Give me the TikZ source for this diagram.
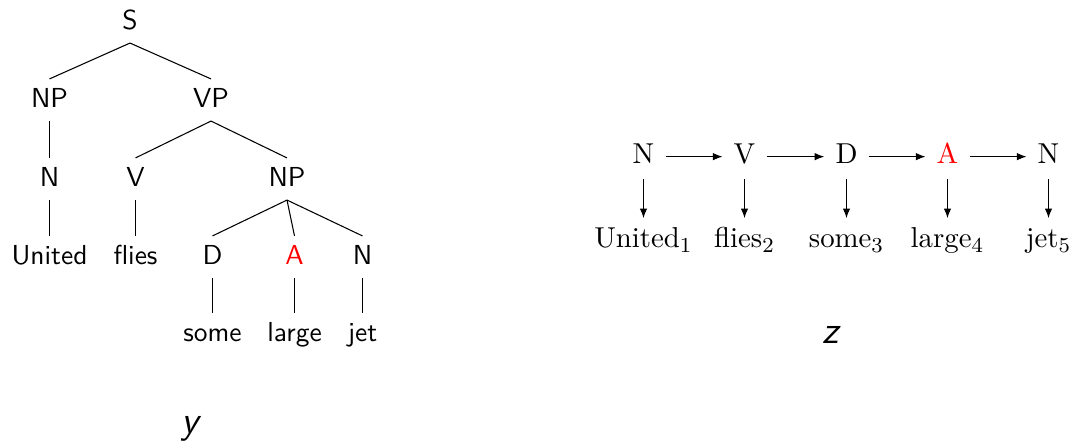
\documentclass[tikz,border=0pt]{standalone}
\usetikzlibrary{arrows.meta}
\begin{document}
\begin{tikzpicture}[x=0.375pt,y=-0.375pt,
  tn/.style={font=\fontsize{10.3}{12}\sffamily, anchor=base, text height=7pt, text depth=1pt, inner xsep=2pt, inner ysep=3.7pt},
  sn/.style={font=\fontsize{10.8}{12}\selectfont, anchor=base, text height=7pt, text depth=1.5pt, inner sep=4pt},
  edge/.style={line width=0.4pt},
  arr/.style={-{Latex[length=3.6pt,width=2.8pt]}, line width=0.4pt},
  lab/.style={font=\Large\sffamily\itshape, anchor=base, inner sep=0pt}]
\useasboundingbox (0,0) rectangle (1073,443);
% ---- left tree
\node[tn] (S) at (130,30) {S};
\node[tn] (NP1) at (49.5,108) {NP};
\node[tn] (VP) at (211,108) {VP};
\node[tn] (N1) at (49.5,187) {N};
\node[tn] (V1) at (135.5,187) {V};
\node[tn] (NP2) at (287,187) {NP};
\node[tn] (w1) at (49.5,265) {United};
\node[tn] (w2) at (135.5,265) {flies};
\node[tn] (D1) at (212.5,265) {D};
\node[tn,text=red] (A1) at (294.5,265) {A};
\node[tn] (N2) at (362.5,265) {N};
\node[tn] (w3) at (212.5,342) {some};
\node[tn] (w4) at (294.5,342) {large};
\node[tn] (w5) at (362.5,342) {jet};
\draw[edge] (S.south) -- (NP1.north);
\draw[edge] (S.south) -- (VP.north);
\draw[edge] (NP1.south) -- (N1.north);
\draw[edge] (VP.south) -- (V1.north);
\draw[edge] (VP.south) -- (NP2.north);
\draw[edge] (N1.south) -- (w1.north);
\draw[edge] (V1.south) -- (w2.north);
\draw[edge] (NP2.south) -- (D1.north);
\draw[edge] (NP2.south) -- (A1.north);
\draw[edge] (NP2.south) -- (N2.north);
\draw[edge] (D1.south) -- (w3.north);
\draw[edge] (A1.south) -- (w4.north);
\draw[edge] (N2.south) -- (w5.north);
\node[lab] (y) at (190,434) {y};
% ---- right chain
\node[sn] (t1) at (643.5,164) {N};
\node[sn] (t2) at (744.5,164) {V};
\node[sn] (t3) at (846.5,164) {D};
\node[sn,text=red] (t4) at (947.5,164) {A};
\node[sn] (t5) at (1048.5,164) {N};
\node[sn] (b1) at (643.5,248) {United$_1$};
\node[sn] (b2) at (744.5,248) {flies$_2$};
\node[sn] (b3) at (846.5,248) {some$_3$};
\node[sn] (b4) at (947.5,248) {large$_4$};
\node[sn] (b5) at (1048.5,248) {jet$_5$};
\draw[arr] (t1) -- (t2);
\draw[arr] (t2) -- (t3);
\draw[arr] (t3) -- (t4);
\draw[arr] (t4) -- (t5);
\draw[arr] (t1) -- (b1);
\draw[arr] (t2) -- (b2);
\draw[arr] (t3) -- (b3);
\draw[arr] (t4) -- (b4);
\draw[arr] (t5) -- (b5);
\node[lab] (z) at (831,344) {z};
\end{tikzpicture}
\end{document}
